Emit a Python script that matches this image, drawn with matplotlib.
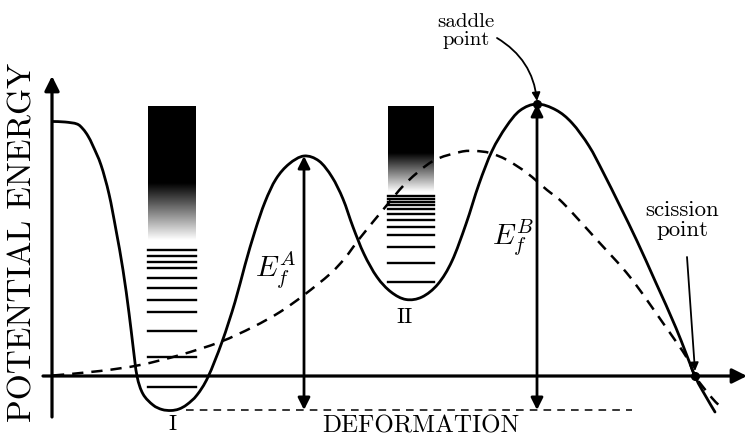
import matplotlib.pyplot as plt
import numpy as np
from matplotlib.path import Path
from matplotlib.patches import PathPatch

plt.rcParams['mathtext.fontset'] = 'cm'

# schematic, in pixels of the original (x right, y down)
# fission barrier (solid)
barrier_x = [53, 65, 77, 83, 88, 93, 101, 109, 116, 123, 129, 133, 137, 143, 153, 162, 171,
             179, 187, 197, 208, 222, 235, 245, 255, 265, 276, 289, 304, 319, 332, 343, 353,
             364, 377, 391, 406, 422, 438, 452, 466, 479, 492, 506, 520, 537, 556, 572, 589,
             603, 620, 637, 656, 676, 695, 705, 715]
barrier_y = [121.5, 122, 124, 129, 136, 146, 165, 194, 230, 270, 313, 346, 376, 394, 405, 409.5, 410.5,
             409, 404.5, 395, 377, 342, 302, 265, 231, 202, 179, 164, 156, 161, 177, 199, 227,
             254, 277, 292, 299.5, 297, 284, 261, 224, 184, 151, 127, 110.5, 104, 110, 123, 146,
             172, 206, 241, 283, 328, 376, 395, 412]

# liquid drop energy (dashed)
ldm_x = [53, 100, 140, 180, 220, 253, 280, 304, 330, 345, 360, 387, 407, 433, 460, 475, 490,
         507, 527, 547, 563, 597, 630, 663, 687, 695, 712, 724]
ldm_y = [375.5, 371, 365, 355, 342, 327, 312, 295, 274, 258, 238, 205, 182, 161, 152, 151, 153,
         160, 173, 190, 203, 240, 277, 323, 358, 376, 398, 410]

# levels in the two wells
well_i_levels = [250, 256, 262.3, 268.3, 277.7, 287.7, 300.3, 312.3, 331, 356.7, 387.3]
well_ii_levels = [196, 198.7, 202, 205, 208.7, 214, 220, 227, 235, 246.7, 262.7, 282]

# continuum boxes: left, right, top, end of black, bottom (white)
well_i_box = (148, 196, 106, 183, 240)
well_ii_box = (388, 434, 106, 153, 192)

ground_i = 410      # bottom of first well
saddle_a = (304, 156)
saddle_b = (537, 104)
scission = (695, 376)


def smooth_path(xs, ys):
    # catmull-rom through the read points, handed to matplotlib as cubic beziers
    p = np.column_stack([xs, ys]).astype(float)
    verts = [p[0]]
    codes = [Path.MOVETO]
    for i in range(len(p) - 1):
        p0 = p[i - 1] if i > 0 else p[i]
        p3 = p[i + 2] if i + 2 < len(p) else p[i + 1]
        c1 = p[i] + (p[i + 1] - p0) / 6
        c2 = p[i + 1] - (p3 - p[i]) / 6
        verts += [c1, c2, p[i + 1]]
        codes += [Path.CURVE4] * 3
    return Path(verts, codes)


def continuum(ax, box):
    left, right, top, black_end, bottom = box
    t = np.linspace(0, 1, 300)
    t0 = (black_end - top) / (bottom - top)
    col = np.clip((t - t0) / (1 - t0), 0, 1)
    img = np.repeat(col[:, None], 2, axis=1)
    ax.imshow(img, cmap='gray', vmin=0, vmax=1, extent=(left, right, bottom, top),
              origin='upper', aspect='auto', interpolation='bilinear', zorder=1)


def main():
    fig = plt.figure(figsize=(7.47, 4.37), dpi=100)
    ax = fig.add_axes([0, 0, 1, 1])
    ax.set_xlim(0, 747)
    ax.set_ylim(437, 0)
    ax.axis('off')

    # axes with arrows
    head = dict(arrowstyle='-|>', lw=2.3, color='k', shrinkA=0, shrinkB=0, mutation_scale=22)
    ax.annotate('', xy=(52, 76), xytext=(52, 417), arrowprops=head)
    ax.annotate('', xy=(747, 376), xytext=(43, 376), arrowprops=head)

    continuum(ax, well_i_box)
    continuum(ax, well_ii_box)
    for y in well_i_levels:
        ax.plot([well_i_box[0], well_i_box[1]], [y, y], color='k', lw=1.7, zorder=2)
    for y in well_ii_levels:
        ax.plot([well_ii_box[0], well_ii_box[1]], [y, y], color='k', lw=1.7, zorder=2)

    ax.add_patch(PathPatch(smooth_path(barrier_x, barrier_y), fill=False, ec='k', lw=2.0,
                           capstyle='round', zorder=3))
    ax.add_patch(PathPatch(smooth_path(ldm_x, ldm_y), fill=False, ec='k', lw=1.8,
                           linestyle=(0, (4.5, 3.2)), zorder=3))
    ax.plot([186, 632], [ground_i, ground_i], color='k', lw=1.1, dashes=(5, 4), zorder=2)

    # barrier heights
    dbl = dict(arrowstyle='<|-|>', lw=2.0, color='k', shrinkA=0, shrinkB=0, mutation_scale=18)
    ax.annotate('', xy=saddle_a, xytext=(saddle_a[0], ground_i), arrowprops=dbl)
    ax.annotate('', xy=saddle_b, xytext=(saddle_b[0], ground_i), arrowprops=dbl)

    ax.plot(*saddle_b, 'o', color='k', ms=5.5, zorder=4)
    ax.plot(*scission, 'o', color='k', ms=5.5, zorder=4)

    ax.annotate('', xy=(saddle_b[0], saddle_b[1] - 3), xytext=(497, 38),
                arrowprops=dict(arrowstyle='-|>', lw=1.3, color='k', shrinkA=0, shrinkB=0,
                                mutation_scale=12, connectionstyle='arc3,rad=-0.25'))
    ax.annotate('', xy=(scission[0], scission[1] - 5), xytext=(687, 257),
                arrowprops=dict(arrowstyle='-|>', lw=1.3, color='k', shrinkA=0, shrinkB=0,
                                mutation_scale=12))

    serif = dict(family='cmr10', color='k')
    ax.text(466, 31, 'saddle\npoint', ha='center', va='center', fontsize=15,
            linespacing=1.05, **serif)
    ax.text(682, 220, 'scission\npoint', ha='center', va='center', fontsize=16.5,
            linespacing=1.0, **serif)
    ax.text(172, 424, 'I', ha='center', va='center', fontsize=16, **serif)
    ax.text(405, 317, 'II', ha='center', va='center', fontsize=16, **serif)
    ax.text(421, 426, 'DEFORMATION', ha='center', va='center', fontsize=18, **serif)
    ax.text(23, 242, 'POTENTIAL ENERGY', ha='center', va='center', rotation=90,
            fontsize=24, **serif)
    ax.text(276, 270, r'$E_f^A$', ha='center', va='center', fontsize=21)
    ax.text(513, 238, r'$E_f^B$', ha='center', va='center', fontsize=21)

    fig.savefig('out.png', dpi=100)


if __name__ == "__main__":
    main()
